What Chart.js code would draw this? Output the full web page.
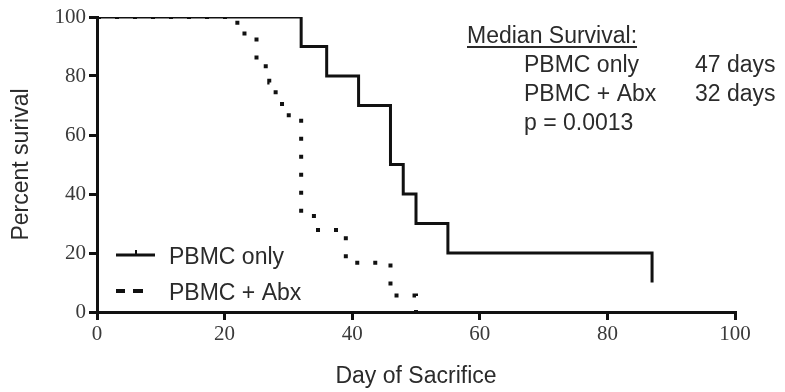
<!DOCTYPE html>
<html>
<head>
<meta charset="utf-8">
<script src="https://cdn.jsdelivr.net/npm/chart.js@4.4.0/dist/chart.umd.min.js"></script>
<style>
html,body{margin:0;padding:0;background:#fff;}
#wrap{width:785px;height:392px;position:relative;}
</style>
</head>
<body>
<div id="wrap"><canvas id="c" width="785" height="392"></canvas></div>
<script>
// ---- data ----
const seriesNames = ["PBMC only", "PBMC + Abx"];
const pbmcDays = [0, 32, 36, 41, 46, 48, 50, 55, 87];
const pbmcSurvival = [100, 90, 80, 70, 50, 40, 30, 20, 10];
const abxDays = [0, 22, 25, 27, 28, 29, 32, 34, 39, 46, 50];
const abxSurvival = [100, 94.4, 83.3, 77.8, 72.2, 66.7, 33.3, 27.8, 16.7, 5.6, 0];
const xTicks = [0, 20, 40, 60, 80, 100];
const yTicks = [0, 20, 40, 60, 80, 100];
const xTitle = "Day of Sacrifice";
const yTitle = "Percent surival";
const medianTitle = "Median Survival:";
const medianRows = [["PBMC only", "47 days"], ["PBMC + Abx", "32 days"], ["p = 0.0013", ""]];

const toPts = (xs, ys) => xs.map((x, i) => ({x: x, y: ys[i]}));

const SANS = '"Liberation Sans", Arial, sans-serif';
const SERIF = '"Liberation Serif", "Times New Roman", serif';

const overlay = {
  id: 'overlay',
  afterDraw(chart) {
    const ctx = chart.ctx;
    ctx.save();
    ctx.fillStyle = '#2b2b2b';
    ctx.font = '23px ' + SANS;
    ctx.textBaseline = 'alphabetic';
    ctx.textAlign = 'left';
    // median annotation
    ctx.fillText(medianTitle, 467, 43);
    const w = ctx.measureText(medianTitle).width;
    ctx.strokeStyle = '#2b2b2b';
    ctx.lineWidth = 2;
    ctx.beginPath(); ctx.moveTo(467, 47); ctx.lineTo(467 + w, 47); ctx.stroke();
    const base = [72, 101, 130];
    medianRows.forEach((r, i) => {
      ctx.fillText(r[0], 524, base[i]);
      if (r[1]) ctx.fillText(r[1], 695, base[i]);
    });
    // legend
    const lb = [264, 300];
    ctx.fillText(seriesNames[0], 169, lb[0]);
    ctx.fillText(seriesNames[1], 169, lb[1]);
    ctx.strokeStyle = '#111';
    ctx.lineWidth = 3;
    const l1 = lb[0] - 9, l2 = lb[1] - 9;
    ctx.beginPath(); ctx.moveTo(116, l1); ctx.lineTo(155, l1); ctx.stroke();
    ctx.lineWidth = 2;
    ctx.beginPath(); ctx.moveTo(136, l1); ctx.lineTo(136, l1 - 5); ctx.stroke();
    ctx.lineWidth = 4;
    ctx.setLineDash([9, 8, 10, 100]);
    ctx.beginPath(); ctx.moveTo(116, l2); ctx.lineTo(143, l2); ctx.stroke();
    ctx.restore();
  }
};

new Chart(document.getElementById('c'), {
  type: 'scatter',
  data: {
    datasets: [
      {
        label: seriesNames[0],
        data: toPts(pbmcDays, pbmcSurvival),
        showLine: true, stepped: 'before',
        borderColor: '#111', borderWidth: 3,
        pointRadius: 0, fill: false
      },
      {
        label: seriesNames[1],
        data: toPts(abxDays, abxSurvival),
        showLine: true, stepped: 'before',
        borderColor: '#111', borderWidth: 4,
        borderDash: [4, 14], borderCapStyle: 'butt',
        pointRadius: 0, fill: false
      }
    ]
  },
  options: {
    responsive: false,
    animation: false,
    events: [],
    layout: {padding: {top: 17, right: 50, bottom: 0, left: 0}},
    plugins: {legend: {display: false}, tooltip: {enabled: false}},
    scales: {
      x: {
        type: 'linear', min: 0, max: 100,
        afterBuildTicks: s => { s.ticks = xTicks.map(v => ({value: v})); },
        afterFit: s => { s.height = 80; },
        grid: {drawOnChartArea: false, drawTicks: true, tickLength: 8, lineWidth: 3, color: '#111'},
        border: {display: true, width: 3, color: '#111'},
        ticks: {color: '#3a3a3a', padding: 2, font: {family: SERIF, size: 21}},
        title: {display: true, text: xTitle, color: '#2b2b2b', padding: {top: 0, bottom: 2}, font: {family: SANS, size: 23}}
      },
      y: {
        type: 'linear', min: 0, max: 100,
        afterBuildTicks: s => { s.ticks = yTicks.map(v => ({value: v})); },
        afterFit: s => { s.width = 97; },
        grid: {drawOnChartArea: false, drawTicks: true, tickLength: 8, lineWidth: 3, color: '#111'},
        border: {display: true, width: 3, color: '#111'},
        ticks: {color: '#3a3a3a', padding: 3, font: {family: SERIF, size: 21}},
        title: {display: true, text: yTitle, color: '#2b2b2b', padding: {top: 8, bottom: 0}, font: {family: SANS, size: 23}}
      }
    }
  },
  plugins: [overlay]
});
</script>
</body>
</html>
